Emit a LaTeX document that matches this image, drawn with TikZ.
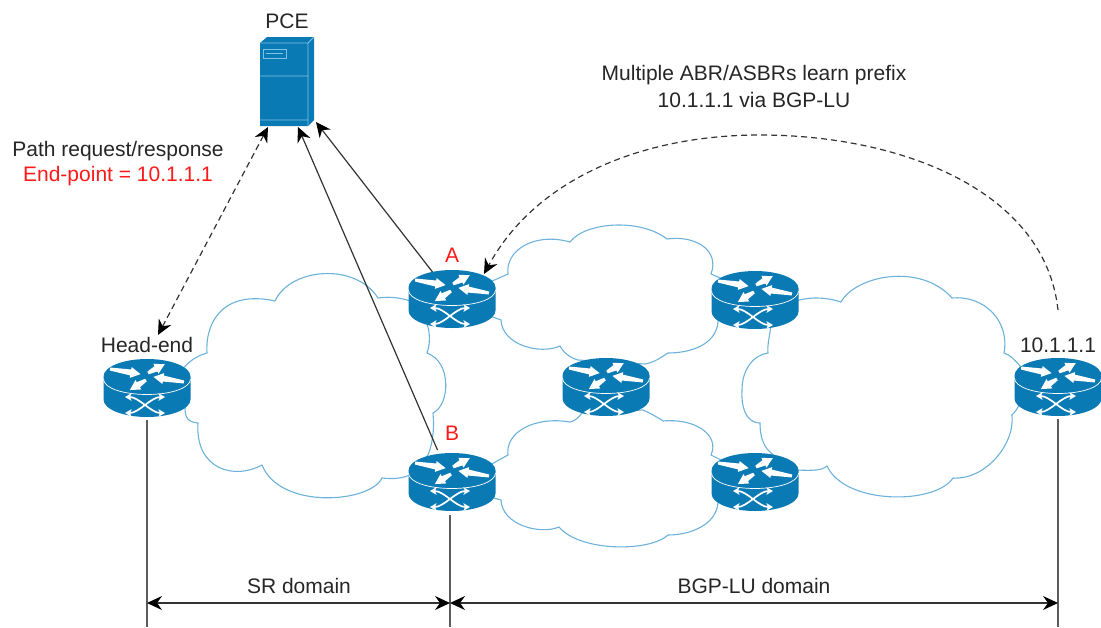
\documentclass[tikz,border=0pt]{standalone}
\usepackage{fontspec}
\setmainfont{Liberation Sans}
\usetikzlibrary{arrows.meta}
\definecolor{ciscoblue}{HTML}{0A7AB5}
\definecolor{cloudblue}{HTML}{6CB2DA}
\definecolor{lightedge}{HTML}{7FC3E8}
\definecolor{linegray}{HTML}{333333}
\newcommand{\rtarrow}[4]{\fill[white,shift={(#1,#2)},rotate=#3] (0,1.5) -- (#4-10,3) -- (#4-10,5.5) -- (#4,0) -- (#4-10,-5.5) -- (#4-10,-3) -- (0,-1.5) -- cycle;}
\tikzset{
  routerbox/.style={minimum width=87pt,minimum height=58pt,inner sep=0pt,outer sep=0pt},
  serverbox/.style={minimum width=54pt,minimum height=89pt,inner sep=0pt,outer sep=0pt},
  cloudline/.style={draw=cloudblue,line width=1.1pt},
  conn/.style={draw=linegray,line width=1.2pt},
  tipboth/.style={conn,{Stealth[length=15pt,width=14pt,inset=5pt,black]}-{Stealth[length=15pt,width=14pt,inset=5pt,black]}},
  tipend/.style={conn,-{Stealth[length=15pt,width=14pt,inset=5pt,black]}},
  dashline/.style={dash pattern=on 6pt off 4pt},
  guide/.style={draw=linegray!80,line width=1.2pt},
  lbl/.style={font=\fontsize{21}{24}\selectfont,text=black!85,inner sep=0pt},
  redlbl/.style={lbl,text=red!90!white},
  xarrow/.style={white,line width=1.7pt,{Stealth[length=6.5pt,width=7.5pt,inset=1.5pt]}-{Stealth[length=6.5pt,width=7.5pt,inset=1.5pt]}},
  pics/router/.style={code={
    \fill[ciscoblue] (-43.5,-11.5) -- (-43.5,11.5) .. controls (-43.5,21.2) and (-24,29) .. (0,29) .. controls (24,29) and (43.5,21.2) .. (43.5,11.5) -- (43.5,-11.5) .. controls (43.5,-21.2) and (24,-29) .. (0,-29) .. controls (-24,-29) and (-43.5,-21.2) .. (-43.5,-11.5) -- cycle;
    \draw[white,line width=0.7pt] (-43.5,-9) .. controls (-43.5,0) and (-24,6.5) .. (0,6.5) .. controls (24,6.5) and (43.5,0) .. (43.5,-9);
    \rtarrow{-37}{-19}{-9.5}{31}
    \rtarrow{1}{-15}{28}{19}
    \rtarrow{-1}{-8}{212}{19}
    \rtarrow{37}{-6}{170.5}{31}
    \draw[xarrow] (-22,9) .. controls (-8,9) and (4,25) .. (18,25);
    \draw[xarrow] (-22,25) .. controls (-8,25) and (4,9) .. (18,9);
  }}
}
\begin{document}
\begin{tikzpicture}[x=1pt,y=-1pt]
\useasboundingbox (0,0) rectangle (1101,627);
% clouds
\draw[cloudline] (180,372) .. controls (188,362) and (196,356) .. (207,353)
  .. controls (205,320) and (225,290) .. (275,301)
  .. controls (290,268) and (355,262) .. (378,298)
  .. controls (392,296) and (405,298) .. (420,305)
  -- (428,327) .. controls (430,335) and (430,345) .. (427,353)
  .. controls (452,362) and (450,405) .. (433,413)
  .. controls (434,425) and (434,440) .. (428,455)
  -- (410,475) .. controls (400,479) and (392,479) .. (382,478)
  .. controls (370,503) and (280,510) .. (262,465)
  .. controls (235,480) and (195,470) .. (198,423)
  .. controls (188,422) and (185,418) .. (185,408) -- cycle;
\draw[cloudline] (490,282) -- (508,274)
  .. controls (505,250) and (535,232) .. (570,242)
  .. controls (585,222) and (640,218) .. (667,239)
  .. controls (695,235) and (720,250) .. (711,274)
  -- (725,280) -- (718,322)
  .. controls (716,345) and (690,353) .. (668,353)
  .. controls (660,358) and (655,362) .. (645,364)
  -- (578,360) .. controls (570,358) and (563,352) .. (560,346)
  .. controls (540,355) and (502,345) .. (501,320) -- (490,316) -- cycle;
\draw[cloudline] (490,465) -- (508,455)
  .. controls (505,432) and (535,416) .. (570,422)
  .. controls (575,421) and (578,418) .. (582,413)
  -- (643,410) .. controls (650,413) and (657,417) .. (663,421)
  .. controls (695,418) and (720,435) .. (711,455)
  -- (725,462) -- (718,503)
  .. controls (716,525) and (690,535) .. (668,535)
  .. controls (650,552) and (580,552) .. (559,527)
  .. controls (540,535) and (502,525) .. (501,500) -- (490,497) -- cycle;
\draw[cloudline] (790,303) .. controls (808,296) and (825,297) .. (841,302)
  .. controls (855,276) and (920,262) .. (952,298)
  .. controls (985,295) and (1010,322) .. (1004,353)
  .. controls (1010,355) and (1015,360) .. (1020,366)
  -- (1020,403) .. controls (1018,408) and (1015,412) .. (1012,415)
  .. controls (1015,445) and (985,480) .. (953,478)
  .. controls (935,505) and (845,505) .. (827,466)
  .. controls (820,472) and (808,470) .. (790,470)
  -- (770,452) .. controls (762,445) and (760,433) .. (760,423)
  .. controls (745,423) and (741,405) .. (742,390)
  .. controls (742,370) and (753,355) .. (768,353)
  .. controls (767,345) and (770,335) .. (771,325) -- cycle;
% nodes
\node[serverbox] (PCE) at (287,81.5) {};
\node[routerbox] (HE) at (147,388) {};
\node[routerbox] (A) at (452,299) {};
\node[routerbox] (B) at (452,482) {};
\node[routerbox] (M) at (606,387) {};
\node[routerbox] (TR) at (755,300) {};
\node[routerbox] (BR) at (755,482) {};
\node[routerbox] (E) at (1058,387) {};
\coordinate (HEfoot) at (147,627);
\coordinate (Bfoot) at (450,627);
\coordinate (Efoot) at (1058,627);
\coordinate (dL) at (147,603);
\coordinate (dM) at (450,603);
\coordinate (dR) at (1058,603);
% guides
\draw[guide] ([yshift=-3pt]HE.south) -- (HEfoot);
\draw[guide] ([xshift=-2pt,yshift=-4pt]B.south) -- (Bfoot);
\draw[guide] ([yshift=-3pt]E.south) -- (Efoot);
\draw[tipboth] (dL) -- (dM);
\draw[tipboth] (dM) -- (dR);
% connectors
\draw[tipend] ([xshift=24pt,yshift=-2pt]A.north west) -- ([xshift=29pt,yshift=4pt]PCE.south);
\draw[tipend] ([xshift=29pt,yshift=3pt]B.north west) -- ([xshift=11pt,yshift=-1pt]PCE.south);
\draw[tipboth,dashline] ([xshift=11pt,yshift=24pt]HE.north) -- ([xshift=-19pt,yshift=-1pt]PCE.south);
\draw[tipend,dashline] ([yshift=48pt]E.north) .. controls (1045,190) and (900,135) .. (760,135) .. controls (640,135) and (535,180) .. ([xshift=32pt,yshift=-4pt]A.north);
% server
\fill[ciscoblue] (260,43) -- (267,37) -- (314,37) -- (314,120) -- (308,126) -- (260,126) -- cycle;
\draw[lightedge,line width=0.9pt] (260,43) -- (308,43) -- (314,37) (308,43) -- (308,126) (260,76) -- (308,76) (260,120) -- (308,120);
\draw[lightedge,line width=0.9pt] (263,49) rectangle (286,58) (266,53) -- (283,53);
% routers
\pic at (HE) {router};
\pic at (A) {router};
\pic at (B) {router};
\pic at (M) {router};
\pic at (TR) {router};
\pic at (BR) {router};
\pic at (E) {router};
% labels
\node[lbl] (tPCE) at (287,21) {PCE};
\node[lbl] (tHE) at (147,345) {Head-end};
\node[lbl] (tE) at (1058,345) {10.1.1.1};
\node[redlbl] (tA) at (452,255) {A};
\node[redlbl] (tB) at (452,433) {B};
\node[lbl] (t1) at (118,151) {Path request/response};
\node[redlbl] (t2) at (118,176) {End-point = 10.1.1.1};
\node[lbl] (t3) at (754,75) {Multiple ABR/ASBRs learn prefix};
\node[lbl] (t4) at (754,100) {10.1.1.1 via BGP-LU};
\node[lbl] (t5) at (299,586) {SR domain};
\node[lbl] (t6) at (754,586) {BGP-LU domain};
\end{tikzpicture}
\end{document}
